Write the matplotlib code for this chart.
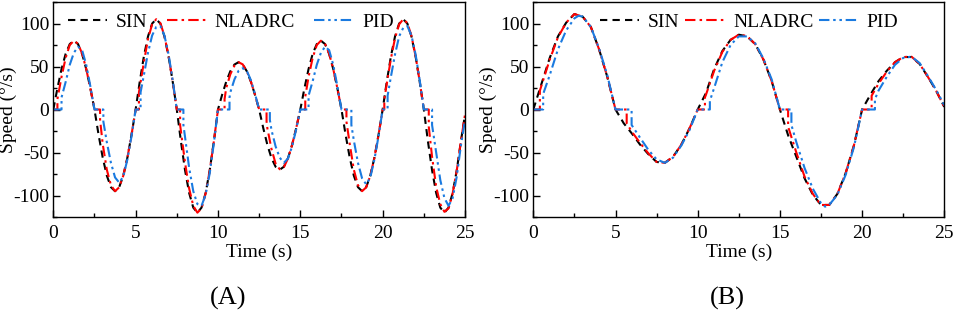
import matplotlib
matplotlib.use("Agg")
import matplotlib.pyplot as plt
from matplotlib.ticker import MultipleLocator

plt.rcParams['font.family'] = ['Liberation Serif', 'DejaVu Serif']
plt.rcParams['axes.unicode_minus'] = False

# ---------------- Panel A data ----------------
t_sin_a = [0, 0.25, 0.5, 0.75, 1, 1.25, 1.5, 1.75, 2, 2.25,
           2.5, 2.75, 3, 3.25, 3.5, 3.75, 4, 4.25, 4.5, 4.75,
           5, 5.25, 5.5, 5.75, 6, 6.25, 6.5, 6.75, 7, 7.25,
           7.5, 7.75, 8, 8.25, 8.5, 8.75, 9, 9.25, 9.5, 9.75,
           10, 10.25, 10.5, 10.75, 11, 11.25, 11.5, 11.75, 12, 12.25,
           12.5, 12.75, 13, 13.25, 13.5, 13.75, 14, 14.25, 14.5, 14.75,
           15, 15.25, 15.5, 15.75, 16, 16.25, 16.5, 16.75, 17, 17.25,
           17.5, 17.75, 18, 18.25, 18.5, 18.75, 19, 19.25, 19.5, 19.75,
           20, 20.25, 20.5, 20.75, 21, 21.25, 21.5, 21.75, 22, 22.25,
           22.5, 22.75, 23, 23.25, 23.5, 23.75, 24, 24.25, 24.5, 24.75, 25]
sin_a = [0, 24.7, 47.0, 64.7, 76.1, 80, 76.1, 64.7, 47.0, 24.7,
         0, -29.4, -55.9, -76.9, -90.3, -95, -90.3, -76.9, -55.9, -29.4,
         0, 32.4, 61.7, 84.9, 99.9, 105, 99.9, 84.9, 61.7, 32.4,
         0, -37.1, -70.6, -97.1, -114.1, -120, -114.1, -97.1, -70.6, -37.1,
         0, 17.0, 32.3, 44.5, 52.3, 55, 52.3, 44.5, 32.3, 17.0,
         0, -21.6, -41.2, -56.6, -66.6, -70, -66.6, -56.6, -41.2, -21.6,
         0, 24.7, 47.0, 64.7, 76.1, 80, 76.1, 64.7, 47.0, 24.7,
         0, -29.4, -55.9, -76.9, -90.3, -95, -90.3, -76.9, -55.9, -29.4,
         0, 32.4, 61.7, 84.9, 99.9, 105, 99.9, 84.9, 61.7, 32.4,
         0, -37.1, -70.6, -97.1, -114.1, -120, -114.1, -97.1, -70.6, -37.1, -6]

t_nl_a = [0, 0.25, 0.25, 0.5, 0.75, 1, 1.25, 1.5, 1.75, 2, 2.25,
          2.5, 2.84, 2.84, 3, 3.25, 3.5, 3.75, 4, 4.25, 4.5, 4.75,
          5, 5.2, 5.2, 5.5, 5.75, 6, 6.25, 6.5, 6.75, 7, 7.25,
          7.5, 7.7, 7.7, 8, 8.25, 8.5, 8.75, 9, 9.25, 9.5, 9.75,
          10, 10.4, 10.4, 10.5, 10.75, 11, 11.25, 11.5, 11.75, 12, 12.25,
          12.5, 12.95, 12.95, 13, 13.25, 13.5, 13.75, 14, 14.25, 14.5, 14.75,
          15, 15.3, 15.3, 15.5, 15.75, 16, 16.25, 16.5, 16.75, 17, 17.25,
          17.5, 17.8, 17.8, 18, 18.25, 18.5, 18.75, 19, 19.25, 19.5, 19.75,
          20, 20.1, 20.1, 20.25, 20.5, 20.75, 21, 21.25, 21.5, 21.75, 22, 22.25,
          22.5, 22.8, 22.8, 23, 23.25, 23.5, 23.75, 24, 24.25, 24.5, 24.75, 25]
nl_a = [0, 0, 12, 38, 60, 75, 80, 76.5, 65, 47, 24.7,
        0, 0, -12, -40, -70, -88, -95, -90.5, -77, -56, -29.4,
        0, 0, 20, 55, 82, 99, 105, 100.5, 85.5, 62, 32.4,
        0, 0, -18, -62, -92, -112, -120, -115, -97.5, -71, -37.1,
        0, 0, 12, 25, 41, 51, 55, 52.5, 44.7, 32.3, 17,
        0, 0, -14, -22, -46, -63, -69.5, -67, -57, -41.2, -21.6,
        0, 0, 15, 38, 60, 75, 80, 76.5, 65, 47, 24.7,
        0, 0, -14, -40, -70, -88, -95, -90.5, -77, -56, -29.4,
        0, 0, 12, 30, 59, 83, 99, 105, 100.5, 85.5, 62, 32.4,
        0, 0, -20, -55, -90, -110, -119, -115, -97.5, -71, -37.1, -6]

t_pid_a = [0, 0.5, 0.5, 0.75, 1, 1.25, 1.5, 1.75, 2, 2.25,
           2.5, 3.04, 3.04, 3.25, 3.5, 3.75, 4, 4.25, 4.5, 4.75,
           5, 5.3, 5.3, 5.5, 5.75, 6, 6.25, 6.5, 6.75, 7, 7.25,
           7.5, 7.9, 7.9, 8, 8.25, 8.5, 8.75, 9, 9.25, 9.5, 9.75,
           10, 10.7, 10.7, 10.75, 11, 11.25, 11.5, 11.75, 12, 12.25,
           12.5, 13.15, 13.15, 13.25, 13.5, 13.75, 14, 14.25, 14.5, 14.75,
           15, 15.5, 15.5, 15.75, 16, 16.25, 16.5, 16.75, 17, 17.25,
           17.5, 18.1, 18.1, 18.25, 18.5, 18.75, 19, 19.25, 19.5, 19.75,
           20, 20.3, 20.3, 20.5, 20.75, 21, 21.25, 21.5, 21.75, 22, 22.25,
           22.5, 23.0, 23.0, 23.25, 23.5, 23.75, 24, 24.25, 24.5, 24.75, 25]
pid_a = [0, 0, 14, 32, 52, 66, 73, 69, 52, 27,
         0, 0, -14, -38, -62, -79, -85, -78, -58, -31,
         0, 0, 20, 40, 66, 86, 96, 97, 86, 64, 34,
         0, 0, -18, -32, -68, -95, -110, -112, -99, -74, -39,
         0, 0, 14, 20, 35, 45, 48, 45, 34, 18,
         0, 0, -12, -24, -43, -56, -62, -57, -43, -23,
         0, 0, 16, 33, 52, 66, 73, 69, 52, 27,
         0, 0, -18, -36, -62, -80, -87, -79, -58, -31,
         0, 0, 16, 38, 64, 85, 95, 97, 86, 64, 34,
         0, 0, -18, -50, -82, -103, -112, -103, -78, -42, -12]

# ---------------- Panel B data ----------------
t_sin_b = [0, 0.5, 1, 1.5, 2, 2.5, 3, 3.5, 4, 4.5,
           5, 5.5, 6, 6.5, 7, 7.5, 8, 8.5, 9, 9.5,
           10, 10.5, 11, 11.5, 12, 12.5, 13, 13.5, 14, 14.5,
           15, 15.5, 16, 16.5, 17, 17.5, 18, 18.5, 19, 19.5,
           20, 20.5, 21, 21.5, 22, 22.5, 23, 23.5, 24, 24.5, 25]
sin_b = [0, 30, 60, 85, 101, 111, 108, 96, 70, 38,
         0, -16, -28, -41, -52, -61, -62, -55, -41, -22,
         0, 19, 47, 68, 81, 87, 85, 76, 58, 33,
         0, -30, -55, -80, -99, -111, -111, -98, -74, -42,
         0, 17, 33, 45, 55, 61, 61, 53, 38, 22, 3]

t_nl_b = [0, 0.4, 0.4, 0.5, 1, 1.5, 2, 2.5, 3, 3.5, 4, 4.5,
          5, 5.68, 5.68, 6, 6.5, 7, 7.5, 8, 8.5, 9, 9.5,
          10, 10.44, 10.44, 10.5, 11, 11.5, 12, 12.5, 13, 13.5, 14, 14.5,
          15, 15.5, 15.5, 16, 16.5, 17, 17.5, 18, 18.5, 19, 19.5,
          20, 20.58, 20.58, 21, 21.5, 22, 22.5, 23, 23.5, 24, 24.5, 25]
nl_b = [0, 0, 22, 28, 58, 84, 101, 111, 108, 96, 70, 38,
        0, 0, -16, -26, -39, -51, -61, -62, -55, -41, -22,
        0, 0, 14, 17, 45, 67, 81, 87, 85.5, 76, 58, 33,
        0, 0, -20, -50, -78, -98, -111, -111, -98, -74, -42,
        0, 0, 16, 30, 44, 55, 61, 61.5, 53, 38, 22, 3]

t_pid_b = [0, 0.6, 0.6, 1, 1.5, 2, 2.5, 2.75, 3, 3.5, 4, 4.5,
           5, 5.98, 5.98, 6.5, 7, 7.5, 8, 8.5, 9, 9.5,
           10, 10.74, 10.74, 11, 11.5, 12, 12.5, 13, 13.5, 14, 14.5,
           15, 15.7, 15.7, 16, 16.5, 17, 17.5, 17.75, 18, 18.5, 19, 19.5,
           20, 20.78, 20.78, 21, 21.5, 22, 22.5, 23, 23.5, 24, 24.5, 25]
pid_b = [0, 0, 18, 40, 70, 92, 106, 109, 108, 96, 71, 40,
         0, 0, -18, -33, -47, -58, -62, -56, -42, -24,
         0, 0, 10, 25, 55, 75, 85, 85, 77, 59, 35,
         0, 0, -18, -38, -68, -92, -109, -113, -111, -99, -76, -44,
         0, 0, 12, 22, 38, 52, 60, 61.5, 54, 39, 23, 5]

series_names = ['SIN', 'NLADRC', 'PID']
panel_labels = ['(A)', '(B)']
x_ticks = [0, 5, 10, 15, 20, 25]
y_ticks = [-100, -50, 0, 50, 100]

colors = ['black', '#ff0000', '#1a7ae0']
dashes = [(3.5, 2.5), (5, 2, 1.2, 2), (5, 1.8, 1.2, 1.8, 1.2, 1.8)]

FS = 14

fig = plt.figure(figsize=(9.55, 3.13), dpi=100)
ax_a = fig.add_axes([53.3 / 955, 1 - 217 / 313, (465 - 53.3) / 955, 215 / 313])
ax_b = fig.add_axes([533.3 / 955, 1 - 217 / 313, (944.3 - 533.3) / 955, 215 / 313])

panels = [
    (ax_a, [(t_sin_a, sin_a), (t_nl_a, nl_a), (t_pid_a, pid_a)], (0.036, 0.948), 1.0),
    (ax_b, [(t_sin_b, sin_b), (t_nl_b, nl_b), (t_pid_b, pid_b)], (0.163, 0.948), 0.3),
]

for ax, data, legloc, colsp in panels:
    for (tx, vy), name, c, d in zip(data, series_names, colors, dashes):
        ax.plot(tx, vy, color=c, lw=1.5, dashes=d, label=name)
    ax.set_xlim(0, 25)
    ax.set_ylim(-125, 125)
    ax.set_xticks(x_ticks)
    ax.set_yticks(y_ticks)
    ax.xaxis.set_minor_locator(MultipleLocator(2.5))
    ax.yaxis.set_minor_locator(MultipleLocator(25))
    ax.tick_params(which='both', direction='in', labelsize=FS, width=1.0)
    ax.tick_params(which='major', length=5)
    ax.tick_params(which='minor', length=3)
    ax.tick_params(axis='y', which='major', pad=3)
    ax.tick_params(axis='x', which='major', pad=6)
    ax.set_xlabel('Time (s)', fontsize=FS, labelpad=1)
    ax.set_ylabel('Speed (°/s)', fontsize=FS)
    ax.yaxis.set_label_coords(-0.088, 0.5)
    for sp in ax.spines.values():
        sp.set_linewidth(1.0)
    ax.legend(loc='upper left', bbox_to_anchor=legloc, ncol=3, frameon=False,
              fontsize=FS, handlelength=2.0, handletextpad=0.45,
              columnspacing=colsp, borderaxespad=0, borderpad=0)

fig.text(228 / 955, 1 - 298 / 313, panel_labels[0], fontsize=19, ha='center', va='center')
fig.text(727 / 955, 1 - 298 / 313, panel_labels[1], fontsize=19, ha='center', va='center')

fig.savefig('out.png', dpi=100)
